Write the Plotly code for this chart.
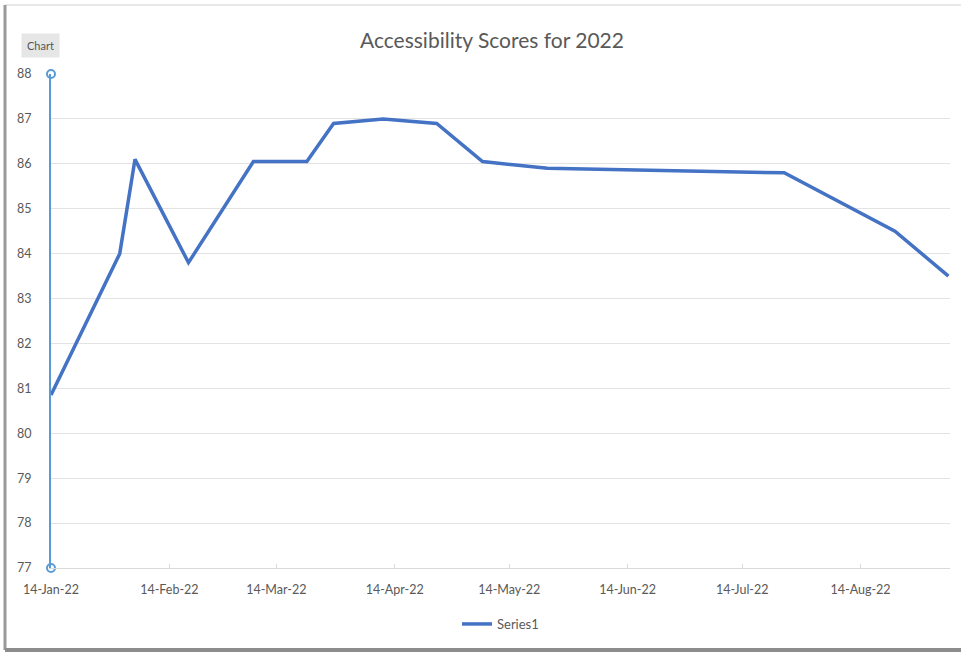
import plotly.graph_objects as go

# ---- data ----
dates = ["2022-01-14", "2022-02-01", "2022-02-05", "2022-02-19", "2022-03-08",
         "2022-03-22", "2022-03-29", "2022-04-11", "2022-04-25", "2022-05-07",
         "2022-05-24", "2022-07-25", "2022-08-23", "2022-09-06"]
scores = [80.85, 84.0, 86.1, 83.8, 86.05, 86.05, 86.9, 87.0, 86.9, 86.05,
          85.9, 85.8, 84.5, 83.5]
series_name = "Series1"
title_text = "Accessibility Scores for 2022"
y_ticks = list(range(77, 89))
x_ticks = ["2022-01-14", "2022-02-14", "2022-03-14", "2022-04-14", "2022-05-14",
           "2022-06-14", "2022-07-14", "2022-08-14"]
x_range = ["2022-01-14", "2022-09-06 10:00"]

W, H = 961, 654
ML, MR, MT, MB = 51, 11, 74, 86
PW, PH = W - ML - MR, H - MT - MB


def px_x(px):
    return (px - ML) / PW


def px_y(py):
    return (H - MB - py) / PH


fig = go.Figure()

fig.add_trace(go.Scatter(
    x=dates, y=scores, mode="lines", name=series_name,
    line=dict(color="#4472C4", width=3.5), showlegend=True,
))

# selected-axis handles (Excel selection circles)
fig.add_trace(go.Scatter(
    x=[x_range[0], x_range[0]], y=[y_ticks[0], y_ticks[-1]], mode="markers",
    marker=dict(symbol="circle", size=8, color="white",
                line=dict(color="#5B9BD5", width=2)),
    showlegend=False, hoverinfo="skip", cliponaxis=False,
))

fig.update_layout(
    width=W, height=H,
    margin=dict(l=ML, r=MR, t=MT, b=MB),
    paper_bgcolor="white", plot_bgcolor="white",
    font=dict(family="Lato, 'Liberation Sans', sans-serif", color="#595959", size=12),
    title=dict(text=title_text, x=px_x(492), xref="paper", xanchor="center",
               y=1 - 41 / H, yanchor="middle",
               font=dict(size=21, color="#595959")),
    legend=dict(orientation="h", x=0.5, xanchor="center", y=px_y(624),
                yanchor="middle", font=dict(size=13, color="#595959"),
                itemwidth=30),
    xaxis=dict(
        type="date", range=x_range, tickvals=x_ticks, tickformat="%d-%b-%y",
        showgrid=False, showline=True, linecolor="#D9D9D9", linewidth=1,
        ticks="inside", ticklen=4, tickcolor="#D9D9D9",
        ticklabelstandoff=10,
        tickfont=dict(size=12.5, color="#595959"), zeroline=False,
    ),
    yaxis=dict(
        range=[y_ticks[0], y_ticks[-1]], tickvals=y_ticks,
        showgrid=True, gridcolor="#E3E3E3", gridwidth=1,
        showline=True, linecolor="#5B9BD5", linewidth=2,
        ticks="", ticklabelstandoff=15,
        tickfont=dict(size=12.5, color="#595959"), zeroline=False,
    ),
    shapes=[
        # outer frame
        dict(type="line", xref="paper", yref="paper",
             x0=px_x(5), x1=px_x(961), y0=px_y(5), y1=px_y(5),
             line=dict(color="#D0D0D0", width=1), layer="below"),
        dict(type="line", xref="paper", yref="paper",
             x0=px_x(5), x1=px_x(5), y0=px_y(5), y1=px_y(650),
             line=dict(color="#9A9A9A", width=3), layer="below"),
        dict(type="line", xref="paper", yref="paper",
             x0=px_x(5), x1=px_x(961), y0=px_y(650), y1=px_y(650),
             line=dict(color="#8C8C8C", width=4), layer="below"),
    ],
    annotations=[
        dict(text="Chart", xref="paper", yref="paper", x=px_x(40), y=px_y(46),
             xanchor="center", yanchor="middle", showarrow=False,
             font=dict(size=11, color="#555555"), bgcolor="#E6E6E6",
             borderpad=5),
    ],
)

fig.write_html("out.html")
